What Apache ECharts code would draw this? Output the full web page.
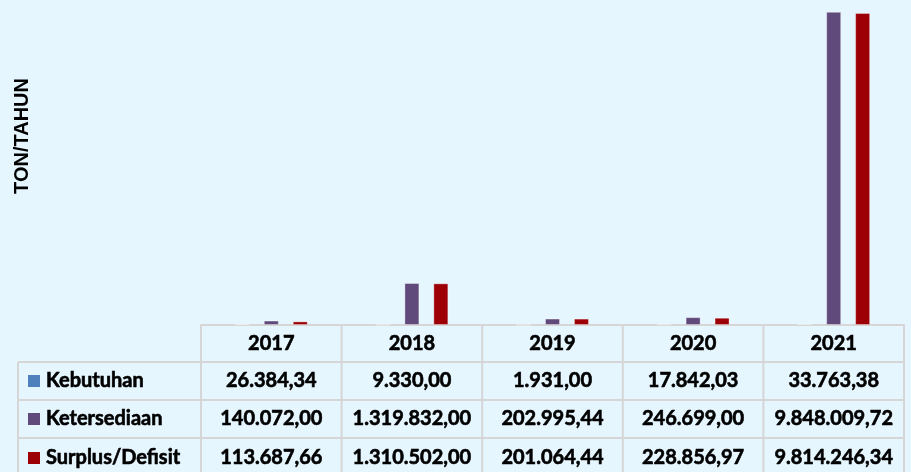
<!DOCTYPE html>
<html><head><meta charset="utf-8">
<script src="https://cdn.jsdelivr.net/npm/echarts@6/dist/echarts.min.js"></script>
<style>html,body{margin:0;padding:0;background:#E6F6FE;}#c{width:911px;height:472px;}</style>
</head><body><div id="c"></div>
<script>
const years = ['2017', '2018', '2019', '2020', '2021'];
const seriesNames = ['Kebutuhan', 'Ketersediaan', 'Surplus/Defisit'];
const kebutuhan = [26384.34, 9330.00, 1931.00, 17842.03, 33763.38];
const ketersediaan = [140072.00, 1319832.00, 202995.44, 246699.00, 9848009.72];
const surplus = [113687.66, 1310502.00, 201064.44, 228856.97, 9814246.34];
const axisTitle = 'TON/TAHUN';

const colors = ['#4F81BD', '#604A7B', '#9C0006'];
const seriesData = [kebutuhan, ketersediaan, surplus];

function fmt(v) {
  const parts = v.toFixed(2).split('.');
  return parts[0].replace(/\B(?=(\d{3})+(?!\d))/g, '.') + ',' + parts[1];
}

const gridLeft = 201, gridRight = 7, gridTop = 7, axisY = 325;
const W = 911, H = 472;
const colW = (W - gridRight - gridLeft) / years.length;
const rowTops = [axisY, 362, 400, 438, 478];
const tableLeft = 18;
const lineColor = '#D6D6D6';
const font = '"Lato", "Open Sans", sans-serif';
const txt = {fill: '#000', stroke: '#000', lineWidth: 0.6, font: 'bold 20px ' + font};

const g = [];
function line(x1, y1, x2, y2) {
  g.push({type: 'line', shape: {x1, y1, x2, y2}, style: {stroke: lineColor, lineWidth: 2}, silent: true});
}
line(gridLeft, rowTops[0], W - gridRight, rowTops[0]);
for (let r = 1; r < 4; r++) line(tableLeft, rowTops[r], W - gridRight, rowTops[r]);
line(tableLeft, rowTops[1], tableLeft, H);
for (let c = 0; c <= years.length; c++) {
  const x = gridLeft + c * colW;
  line(x, rowTops[0], x, H);
}
years.forEach((y, i) => {
  g.push({type: 'text', x: gridLeft + (i + 0.5) * colW, y: (rowTops[0] + rowTops[1]) / 2,
    style: Object.assign({text: y, align: 'center', verticalAlign: 'middle'}, txt)});
});
seriesNames.forEach((name, r) => {
  const cy = (rowTops[r + 1] + rowTops[r + 2]) / 2;
  g.push({type: 'rect', shape: {x: 28, y: cy - 6, width: 12, height: 12}, style: {fill: colors[r]}});
  g.push({type: 'text', x: 46, y: cy, style: Object.assign({text: name, align: 'left', verticalAlign: 'middle'}, txt)});
  seriesData[r].forEach((v, i) => {
    g.push({type: 'text', x: gridLeft + (i + 0.5) * colW, y: cy,
      style: Object.assign({text: fmt(v), align: 'center', verticalAlign: 'middle'}, txt)});
  });
});
g.push({type: 'text', x: 22, y: 136, rotation: Math.PI / 2,
  style: {text: axisTitle, fill: '#000', font: 'bold 20px "Liberation Sans", Arial, sans-serif', align: 'center', verticalAlign: 'middle'}});

const chart = echarts.init(document.getElementById('c'));
chart.setOption({
  backgroundColor: '#E6F6FE',
  animation: false,
  grid: {left: gridLeft, right: gridRight, top: gridTop, bottom: H - axisY},
  xAxis: {type: 'category', data: years, axisLine: {show: true, lineStyle: {color: lineColor, width: 2}},
    axisTick: {show: false}, axisLabel: {show: false}},
  yAxis: {type: 'value', min: 0, max: 10000000, show: false, splitLine: {show: false}},
  series: seriesNames.map((n, i) => ({
    name: n, type: 'bar', data: seriesData[i], barWidth: 15, barGap: '93%',
    itemStyle: {color: colors[i], borderColor: 'rgba(255,255,255,0.35)', borderWidth: 1}
  })),
  graphic: g
});
</script></body></html>
